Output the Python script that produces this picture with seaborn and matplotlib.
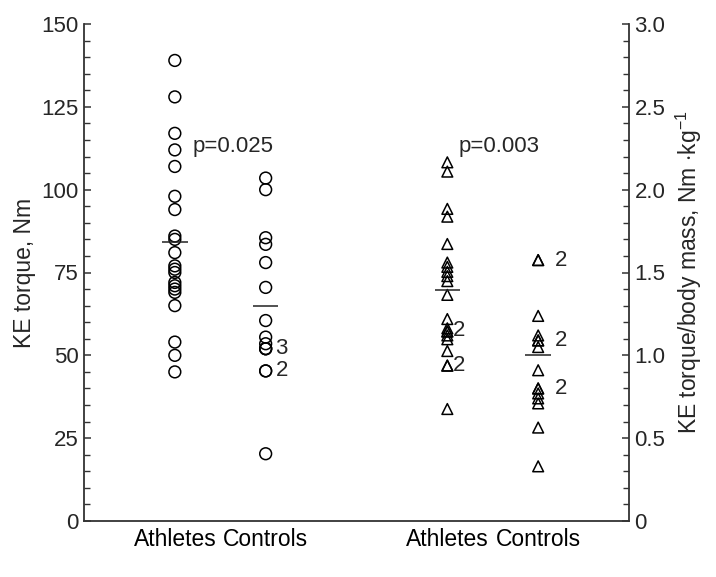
import numpy as np
import pandas as pd
import matplotlib
matplotlib.use("Agg")
import matplotlib.pyplot as plt
import seaborn as sns
from matplotlib.ticker import MultipleLocator, FixedLocator, FixedFormatter

# ---------------- data ----------------
groups = ["Athletes", "Controls"]
torque_athletes = [139, 128, 117, 112, 107, 98, 94, 86, 85, 81, 77, 76, 75, 72, 71, 70, 69, 65, 54, 50, 45]
torque_controls = [103.5, 100, 85.5, 83.5, 78, 70.5, 60.5, 55.5, 53.5, 52, 52, 52, 45.3, 45.3, 20.3]
ratio_athletes = [2.165, 2.109, 1.884, 1.837, 1.672, 1.56, 1.534, 1.504, 1.478, 1.448, 1.365,
                  1.219, 1.163, 1.144, 1.144, 1.12, 1.097, 1.026, 0.938, 0.938, 0.676]
ratio_controls = [1.575, 1.575, 1.238, 1.12, 1.09, 1.09, 1.05, 0.91, 0.80, 0.80, 0.77, 0.74, 0.71, 0.564, 0.33]
torque_means = [84.2, 64.8]
ratio_means = [1.393, 1.0]
p_values = ["p=0.025", "p=0.003"]
# (group index, value, label)
torque_counts = [(1, 52, "3"), (1, 45.3, "2")]
ratio_counts = [(0, 1.15, "2"), (0, 0.938, "2"), (1, 1.575, "2"), (1, 1.09, "2"), (1, 0.80, "2")]
left_ticks = [0, 25, 50, 75, 100, 125, 150]
left_ticklabels = ["0", "25", "50", "75", "100", "125", "150"]
right_ticks = [0, 0.5, 1.0, 1.5, 2.0, 2.5, 3.0]
right_ticklabels = ["0", "0.5", "1.0", "1.5", "2.0", "2.5", "3.0"]

# ---------------- layout / style ----------------
pos_torque = [1, 2]
pos_ratio = [4, 5]
sns.set_theme(style="white")
plt.rcParams["font.family"] = ["Liberation Sans", "DejaVu Sans"]
plt.rcParams["mathtext.fontset"] = "custom"
plt.rcParams["mathtext.rm"] = "Liberation Sans"
plt.rcParams["mathtext.it"] = "Liberation Sans"
FS = 16
AX_COL = "#333333"

df_t = pd.DataFrame({
    "x": [pos_torque[0]] * len(torque_athletes) + [pos_torque[1]] * len(torque_controls),
    "y": torque_athletes + torque_controls,
})
df_r = pd.DataFrame({
    "x": [pos_ratio[0]] * len(ratio_athletes) + [pos_ratio[1]] * len(ratio_controls),
    "y": ratio_athletes + ratio_controls,
})

fig = plt.figure(figsize=(7.16, 5.77), dpi=100)
ax = fig.add_axes([84 / 716, 1 - 521 / 577, (629 - 84) / 716, (521 - 24) / 577])
ax2 = ax.twinx()

sns.scatterplot(data=df_t, x="x", y="y", ax=ax, marker="o", s=72,
                facecolor="none", edgecolor="black", linewidth=1.1, legend=False)
sns.scatterplot(data=df_r, x="x", y="y", ax=ax2, marker="^", s=60,
                facecolor="none", edgecolor="black", linewidth=1.1, legend=False)

hw = 0.14
for p, m in zip(pos_torque, torque_means):
    ax.hlines(m, p - hw, p + hw, color="#222222", lw=1.1)
for p, m in zip(pos_ratio, ratio_means):
    ax2.hlines(m, p - hw, p + hw, color="#222222", lw=1.1)

offs_t = [7, 7]
for (g, v, lab), o in zip(torque_counts, offs_t):
    ax.annotate(lab, (pos_torque[g], v), xytext=(o, 0), textcoords="offset points",
                ha="left", va="center", fontsize=FS)
offs_r = [4, 4, 12, 12, 12]
for (g, v, lab), o in zip(ratio_counts, offs_r):
    ax2.annotate(lab, (pos_ratio[g], v), xytext=(o, 0), textcoords="offset points",
                 ha="left", va="center", fontsize=FS)

ax.text(1.2, 113, p_values[0], ha="left", va="center", fontsize=FS)
ax2.text(4.12, 113 / 50, p_values[1], ha="left", va="center", fontsize=FS)

ax.set_xlim(0, 6)
ax.set_ylim(0, 150)
ax2.set_ylim(0, 3)
ax.set_xticks(pos_torque + pos_ratio)
ax.set_xticklabels(groups + groups, fontsize=16.5)
ax.set_xlabel("")
ax.set_ylabel("KE torque, Nm", fontsize=16.5, labelpad=4)
ax2.set_ylabel(r"KE torque/body mass, Nm $\cdot$kg$^{-1}$", fontsize=16.5, labelpad=6)

ax.yaxis.set_major_locator(FixedLocator(left_ticks))
ax.yaxis.set_major_formatter(FixedFormatter(left_ticklabels))
ax.yaxis.set_minor_locator(MultipleLocator(5))
ax2.yaxis.set_major_locator(FixedLocator(right_ticks))
ax2.yaxis.set_major_formatter(FixedFormatter(right_ticklabels))
ax2.yaxis.set_minor_locator(MultipleLocator(0.1))

ax.tick_params(axis="x", length=0, pad=5, colors="black")
ax.tick_params(axis="y", which="major", direction="in", length=5, width=1.1,
               color=AX_COL, labelsize=FS, pad=4)
ax.tick_params(axis="y", which="minor", direction="in", length=4, width=1.0, color=AX_COL)
ax2.tick_params(axis="y", which="major", direction="in", length=5, width=1.1,
                color=AX_COL, labelsize=FS, pad=4)
ax2.tick_params(axis="y", which="minor", direction="in", length=4, width=1.0, color=AX_COL)

for a in (ax, ax2):
    a.spines["top"].set_visible(False)
    for s in ("left", "right", "bottom"):
        a.spines[s].set_color(AX_COL)
        a.spines[s].set_linewidth(1.3)
ax.spines["right"].set_visible(False)
ax2.spines["left"].set_visible(False)
ax2.spines["bottom"].set_visible(False)

fig.savefig("out.png", dpi=100)
